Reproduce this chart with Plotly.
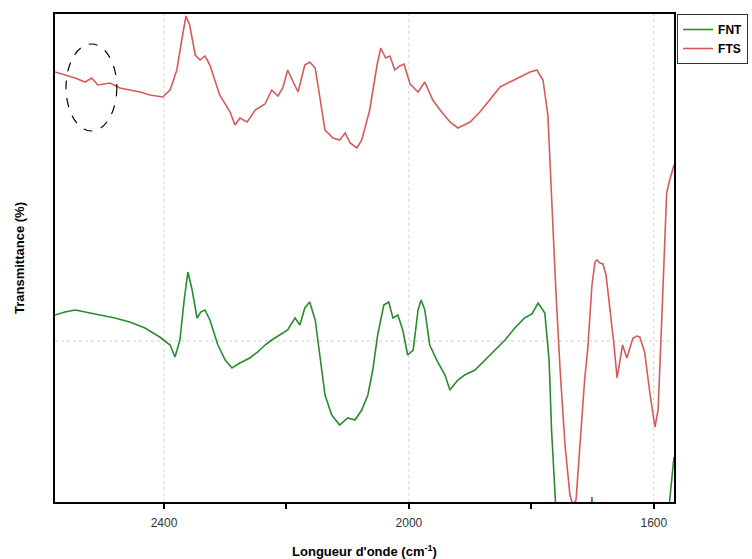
import plotly.graph_objects as go

# FTS (red) spectrum: wavenumber (cm-1) and transmittance (arbitrary %)
fts_wn = [2578, 2562, 2545, 2529, 2518, 2508, 2488, 2472, 2456, 2439, 2423, 2402,
          2390, 2379, 2371, 2364, 2358, 2349, 2341, 2333, 2325, 2309, 2292, 2284,
          2276, 2264, 2251, 2235, 2224, 2214, 2206, 2198, 2189, 2181, 2170, 2162,
          2153, 2145, 2137, 2124, 2113, 2104, 2096, 2085, 2077, 2064, 2052, 2046,
          2038, 2031, 2023, 2015, 2008, 1998, 1985, 1974, 1961, 1949, 1933, 1920,
          1900, 1884, 1868, 1851, 1835, 1819, 1802, 1791, 1781, 1773, 1767, 1760,
          1753, 1745, 1737, 1732, 1727, 1721, 1713, 1708, 1701, 1696, 1693, 1688,
          1683, 1678, 1672, 1665, 1660, 1655, 1651, 1644, 1639, 1634, 1628, 1623,
          1615, 1606, 1598, 1593, 1587, 1579, 1574, 1567]
fts_t = [86.0, 85.4, 84.8, 84.0, 84.8, 83.4, 83.8, 82.8, 82.4, 82.0, 81.4, 81.0,
         82.4, 86.4, 92.4, 97.2, 95.4, 89.4, 88.4, 89.2, 87.4, 81.4, 78.0, 75.4,
         76.8, 76.0, 78.4, 79.6, 82.4, 81.2, 82.8, 86.4, 84.0, 82.0, 87.4, 88.0,
         86.8, 80.4, 74.4, 72.8, 72.4, 73.8, 71.8, 70.8, 72.4, 78.4, 87.4, 90.8,
         88.8, 89.2, 86.4, 87.2, 87.6, 83.6, 82.0, 84.0, 80.4, 78.4, 76.0, 74.8,
         76.0, 78.0, 80.4, 83.0, 84.0, 85.0, 86.0, 86.4, 84.4, 77.4, 60.4, 42.4,
         26.4, 11.4, 1.4, -0.6, 0.4, 10.4, 24.4, 30.4, 43.4, 48.0, 48.4, 47.8,
         47.6, 45.4, 39.0, 31.4, 24.8, 28.4, 31.4, 28.8, 30.8, 32.8, 33.2, 33.0,
         30.0, 21.4, 15.0, 18.4, 36.4, 61.8, 64.4, 67.4]

# FNT (green) spectrum
fnt_wn = [2578, 2562, 2545, 2521, 2504, 2480, 2456, 2431, 2407, 2390, 2382, 2374,
          2367, 2361, 2354, 2346, 2340, 2333, 2325, 2312, 2300, 2289, 2276, 2260,
          2247, 2235, 2224, 2211, 2198, 2186, 2178, 2170, 2162, 2153, 2145, 2137,
          2126, 2113, 2100, 2088, 2077, 2067, 2059, 2051, 2041, 2033, 2026, 2018,
          2010, 2002, 1993, 1985, 1980, 1974, 1966, 1953, 1941, 1933, 1920, 1909,
          1892, 1876, 1860, 1843, 1827, 1811, 1799, 1789, 1778, 1771, 1767, 1762,
          1757, 1740, 1710, 1703, 1701, 1699, 1650, 1600, 1577, 1574, 1567]
fnt_t = [37.4, 38.0, 38.4, 37.8, 37.4, 36.8, 36.0, 34.8, 33.0, 31.4, 29.0, 32.4,
         40.4, 46.0, 42.4, 36.8, 38.0, 38.4, 36.4, 31.4, 28.4, 26.8, 27.8, 28.8,
         30.0, 31.4, 32.4, 33.4, 34.4, 36.8, 35.4, 38.8, 40.0, 36.4, 28.4, 21.4,
         17.4, 15.4, 16.8, 16.4, 18.4, 21.4, 26.4, 33.4, 39.4, 40.0, 36.8, 37.4,
         34.4, 29.4, 30.4, 38.4, 40.4, 38.4, 31.4, 28.0, 25.4, 22.4, 24.4, 25.4,
         26.4, 28.4, 30.4, 32.4, 34.8, 36.8, 37.6, 39.8, 37.8, 28.4, 14.4, 0.0,
         -8.0, -10.0, -10.0, -6.0, 1.0, -6.0, -10.0, -10.0, -5.0, 0.4, 9.0]

x_major_ticks = [2400, 2000, 1600]
x_minor_ticks = [2200, 1800]

fig = go.Figure()
fig.add_trace(go.Scatter(x=fnt_wn, y=fnt_t, mode="lines", name="FNT",
                         line=dict(color="#2a8c2a", width=1.6)))
fig.add_trace(go.Scatter(x=fts_wn, y=fts_t, mode="lines", name="FTS",
                         line=dict(color="#d65a5a", width=1.6)))

# dashed ellipse highlighting a region
fig.add_shape(type="circle", xref="x", yref="y", x0=2560, x1=2477, y0=74.2, y1=91.6,
              line=dict(color="black", width=1.2, dash="dash"))

# dotted grid lines
for gx in x_major_ticks:
    fig.add_shape(type="line", xref="x", yref="paper", x0=gx, x1=gx, y0=0, y1=1,
                  line=dict(color="#d0d0d0", width=1, dash="dot"), layer="below")
fig.add_shape(type="line", xref="paper", yref="y", x0=0, x1=1, y0=32.2, y1=32.2,
              line=dict(color="#d0d0d0", width=1, dash="dot"), layer="below")

fig.update_layout(
    width=752, height=559,
    margin=dict(l=55, r=78, t=14, b=57, autoexpand=False),
    plot_bgcolor="white", paper_bgcolor="white",
    font=dict(family="Liberation Sans, Arial, sans-serif", color="#222"),
    showlegend=True,
    legend=dict(x=1.005, y=1.0, xanchor="left", yanchor="top",
                bordercolor="#333", borderwidth=1,
                font=dict(size=12, color="black", family="Liberation Sans, Arial",
                          weight="bold"),
                tracegroupgap=0, itemwidth=30),
    xaxis=dict(range=[2578, 1567], tickmode="array", tickvals=x_major_ticks,
               ticks="outside", ticklen=5, tickwidth=1.5, tickcolor="black",
               minor=dict(tickmode="array", tickvals=x_minor_ticks, ticks="outside",
                          ticklen=5, tickwidth=1.5, tickcolor="black", showgrid=False),
               ticklabelstandoff=4,
               showgrid=False, zeroline=False, automargin=False,
               showline=True, linecolor="black", linewidth=1.5, mirror=True,
               tickfont=dict(size=12, color="#333"),
               title=dict(text="<b>Longueur d'onde (cm<sup>-1</sup>)</b>",
                          font=dict(size=13, color="black"), standoff=20)),
    yaxis=dict(range=[0, 97.6], showticklabels=False, ticks="",
               showgrid=False, zeroline=False, automargin=False,
               showline=True, linecolor="black", linewidth=1.5, mirror=True,
               title=dict(text="<b>Transmittance (%)</b>",
                          font=dict(size=13, color="black"), standoff=26)),
)

fig.write_html("out.html", config={"displayModeBar": False},
               post_script="document.body.style.margin='0';")
